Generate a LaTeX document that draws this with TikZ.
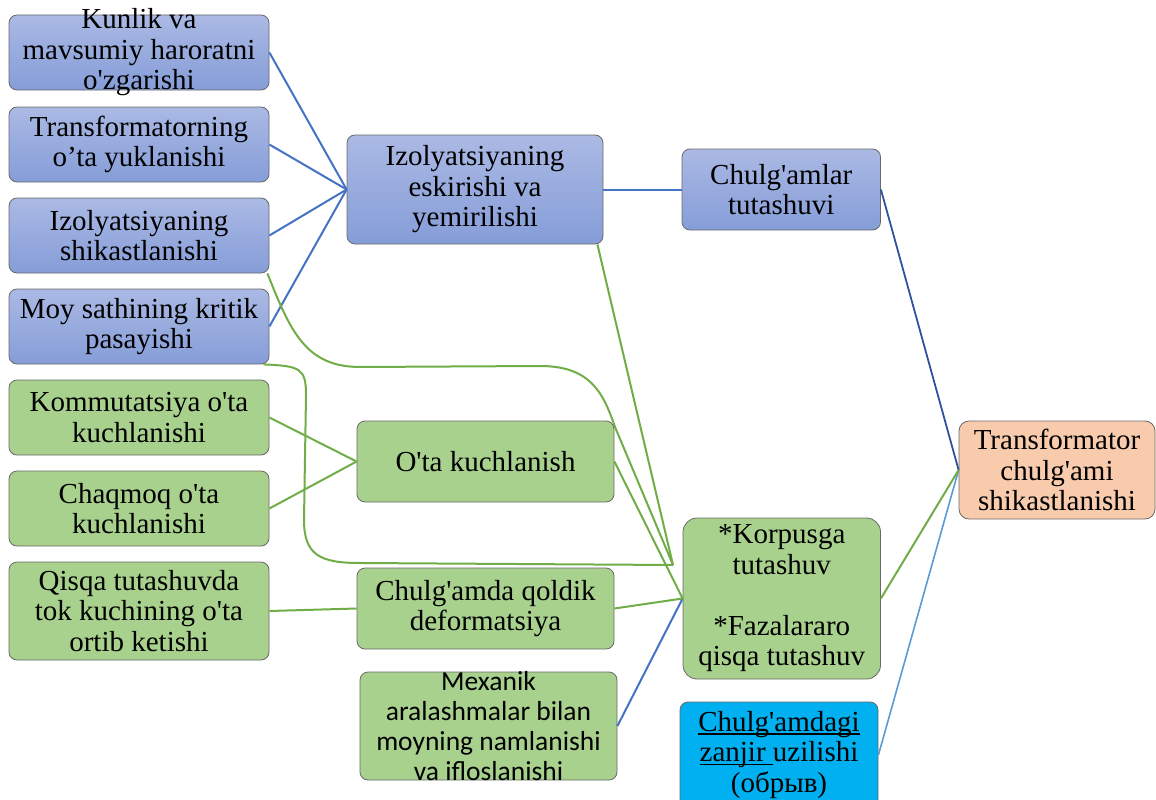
\documentclass[tikz,border=0pt]{standalone}
\usepackage{fontspec}
\setmainfont{Liberation Serif}[Ligatures=TeXOff]
\newfontfamily\calib{Carlito}[Ligatures=TeXOff]
\usetikzlibrary{calc}

% colours
\definecolor{bTop}{RGB}{171,185,228}
\definecolor{bBot}{RGB}{133,157,216}
\definecolor{gFill}{RGB}{169,209,142}
\definecolor{pFill}{RGB}{248,203,173}
\definecolor{cFill}{RGB}{0,176,240}
\definecolor{boxline}{RGB}{105,105,105}
\definecolor{lnBlue}{RGB}{68,114,196}
\definecolor{lnNavy}{RGB}{47,82,160}
\definecolor{lnLight}{RGB}{91,155,213}
\definecolor{lnGreen}{RGB}{112,173,71}

% underline at a fixed depth, crossing descenders
\newcommand\lineunder[1]{\setbox0\hbox{#1}\rlap{\rule[-3.2pt]{\wd0}{1.3pt}}\box0}

\tikzset{
  x=1pt, y=-1pt,
  box/.style={draw=boxline, line width=0.8pt, rounded corners=8pt, inner sep=0pt},
  wh/.style 2 args={minimum width=#1pt, minimum height=#2pt},
  bluebox/.style={box, top color=bTop, bottom color=bBot},
  greenbox/.style={box, fill=gFill},
  peachbox/.style={box, fill=pFill},
  cyanbox/.style={box, fill=cFill},
  tx/.style={align=center, text=black, inner sep=0pt,
             font=\fontsize{29pt}{30.5pt}\selectfont},
  txs/.style={align=center, text=black, inner sep=0pt,
             font=\calib\fontsize{27.5pt}{30pt}\selectfont},
  bl/.style={draw=lnBlue, line width=2pt},
  nv/.style={draw=lnNavy, line width=1.8pt},
  lb/.style={draw=lnLight, line width=1.6pt},
  gr/.style={draw=lnGreen, line width=2pt},
}

\begin{document}
\begin{tikzpicture}
\useasboundingbox (0,0) rectangle (1156,800);
\clip (0,0) rectangle (1156,800);

% left column: causes
\node[bluebox, wh={260}{75}, label={[tx]center:{Kunlik va\\mavsumiy haroratni\\o'zgarishi}}] (k1) at (139,52.5) {};
\node[bluebox, wh={260}{75}, label={[tx]center:{Transformatorning\\o’ta yuklanishi}}] (k2) at (139,144.5) {};
\node[bluebox, wh={260}{75}, label={[tx]center:{Izolyatsiyaning\\shikastlanishi}}] (k3) at (139,235.5) {};
\node[bluebox, wh={260}{75}, label={[tx]center:{Moy sathining kritik\\pasayishi}}] (k4) at (139,326.5) {};
\node[greenbox, wh={260}{75}, label={[tx]center:{Kommutatsiya o'ta\\kuchlanishi}}] (k5) at (139,417.5) {};
\node[greenbox, wh={260}{75}, label={[tx]center:{Chaqmoq o'ta\\kuchlanishi}}] (k6) at (139,508.5) {};
\node[greenbox, wh={260}{98}, label={[tx]center:{Qisqa tutashuvda\\tok kuchining o'ta\\ortib ketishi}}] (k7) at (139,611) {};

% middle column
\node[bluebox, wh={256}{109}, label={[tx]center:{Izolyatsiyaning\\eskirishi va\\yemirilishi}}] (iz) at (475,189.5) {};
\node[greenbox, wh={257}{81}, label={[tx]center:{O'ta kuchlanish}}] (ok) at (485.5,461.5) {};
\node[greenbox, wh={257}{81}, label={[tx]center:{Chulg'amda qoldik\\deformatsiya}}] (cq) at (485.5,608.5) {};
\node[greenbox, wh={257}{108}, label={[txs]center:{Mexanik\\aralashmalar bilan\\moyning namlanishi\\va ifloslanishi}}] (mx) at (488.5,726) {};

% right column: fault types
\node[bluebox, wh={198.5}{81}, label={[tx]center:{Chulg'amlar\\tutashuvi}}] (ct) at (781.25,189.5) {};
\node[greenbox, rounded corners=14pt, wh={197.5}{161}, label={[tx]center:{*Korpusga\\tutashuv\\[30.5pt]*Fazalararo\\qisqa tutashuv}}] (kp) at (781.75,598.5) {};
\node[cyanbox, wh={198}{106}, label={[tx]center:{\lineunder{Chulg'amdagi}\\\lineunder{zanjir\ }uzilishi\\(обрыв)}}] (cb) at (779,755) {};

% result
\node[peachbox, rounded corners=10pt, wh={196}{98}, label={[tx]center:{Transformator\\chulg'ami\\shikastlanishi}}] (tr) at (1057,470) {};

% free end where three connectors meet
\coordinate (j) at (673,565);

% blue connectors
\draw[bl] (k1.east) -- (iz.west);
\draw[bl] (k2.east) -- (iz.west);
\draw[bl] (k3.east) -- (iz.west);
\draw[bl] (k4.east) -- (iz.west);
\draw[bl] (iz.east) -- (ct.west);
\draw[bl] (mx.east) -- (kp.west);
\draw[nv] (ct.east) -- (tr.west);
\draw[lb] (cb.east) -- (tr.west);

% green connectors
\draw[gr] (k5.east) -- (ok.west);
\draw[gr] (k6.east) -- (ok.west);
\draw[gr] (k7.east) -- (cq.west);
\draw[gr] (cq.east) -- (kp.west);
\draw[gr] (ok.east) -- (kp.west);
\draw[gr] (kp.east) -- (tr.west);
\draw[gr] ([xshift=-6pt]iz.south east) -- (j);
\draw[gr] ([xshift=-2pt]k3.south east)
      .. controls (290,330) and (305,367) .. (360,367)
      -- (540,366)
      .. controls (590,366) and (603,392) .. (615,427) -- (j);
\draw[gr] ([xshift=-6pt]k4.south east)
      .. controls (300,366) and (306,368) .. (306,395)
      -- (304,520)
      .. controls (304,555) and (320,563) .. (360,563) -- (j);
\end{tikzpicture}
\end{document}
